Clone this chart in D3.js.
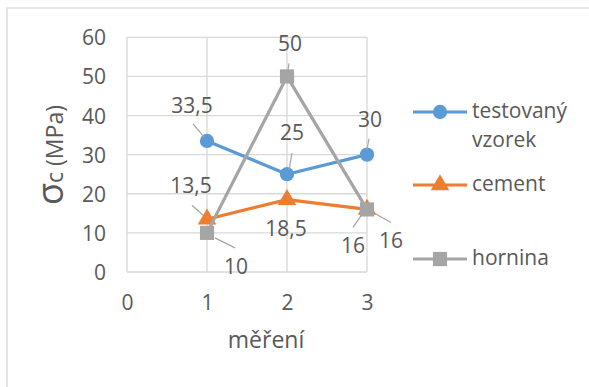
<!DOCTYPE html>
<html><head><meta charset="utf-8">
<script src="https://cdn.jsdelivr.net/npm/d3@7/dist/d3.min.js"></script>
<style>body{margin:0;background:#fff}text{font-family:"Open Sans",sans-serif;fill:#595959}</style>
</head><body><svg id="c" width="589" height="387"></svg>
<script>
const categories = [1, 2, 3];
const xTicks = [0, 1, 2, 3];
const yTicks = [0, 10, 20, 30, 40, 50, 60];
const seriesNames = ["testovaný vzorek", "cement", "hornina"];
const testovany = [33.5, 25, 30];
const cement = [13.5, 18.5, 16];
const hornina = [10, 50, 16];
const xTitle = "měření";

const colors = ["#5b9bd5", "#ed7d31", "#a5a5a5"];
const symbols = [d3.symbolCircle, d3.symbolTriangle, d3.symbolSquare];
const symSizes = [160, 150, 200];
const FS = 21;
// label layout: [labelDx, labelDy, leader x1,y1,x2,y2] relative to marker
const labelLayout = [
  [[-15,-28,-14,-17,-3,-4],[5,-34,5,-21,2,-4],[3,-28,2,-16,0,-5]],
  [[-16,-26,-15,-14,-4,-4],[-1,36,null],[-14,44,-14,18,-5,5]],
  [[29,41,8,5,28,15],[3,-25,2,-13,1,-6],[24,39,8,4,24,13]]
];
const series = [testovany, cement, hornina];

const svg = d3.select("#c");
svg.append("rect").attr("x",7).attr("y",8).attr("width",700).attr("height",500)
  .attr("fill","#fff").attr("stroke","#d9d9d9").attr("stroke-width",1.3);

const x = d3.scaleLinear().domain([0,3]).range([127,367]);
const y = d3.scaleLinear().domain([0,60]).range([272,37.3]);

const g = svg.append("g");
g.selectAll(".hg").data(yTicks).join("line")
  .attr("x1",x(0)).attr("x2",x(3)).attr("y1",d=>y(d)).attr("y2",d=>y(d))
  .attr("stroke","#d9d9d9").attr("stroke-width",1.3);
g.selectAll(".vg").data(xTicks).join("line")
  .attr("y1",y(0)).attr("y2",y(60)).attr("x1",d=>x(d)).attr("x2",d=>x(d))
  .attr("stroke","#d9d9d9").attr("stroke-width",1.3);

const yAxis = d3.axisLeft(y).tickValues(yTicks).tickSize(0).tickPadding(21).tickFormat(d3.format("d"));
const ya = svg.append("g").attr("transform","translate("+x(0)+",0)").call(yAxis);
ya.select(".domain").remove();
ya.selectAll("text").attr("font-size",FS).attr("fill","#595959").attr("font-family","Open Sans").attr("dy","0.36em");
const xAxis = d3.axisBottom(x).tickValues(xTicks).tickSize(0).tickPadding(23).tickFormat(d3.format("d"));
const xa = svg.append("g").attr("transform","translate(0,"+y(0)+")").call(xAxis);
xa.select(".domain").remove();
xa.selectAll("text").attr("font-size",FS).attr("fill","#595959").attr("font-family","Open Sans");

svg.append("text").attr("x",266).attr("y",348).attr("text-anchor","middle").attr("font-size",23).text(xTitle);
const yt = svg.append("text").attr("transform","translate(63,155) rotate(-90)").attr("text-anchor","middle").attr("font-size",23);
yt.append("tspan").attr("font-size",36).text("σ");
yt.append("tspan").text("c (MPa)");

const line = d3.line().x((d,i)=>x(categories[i])).y(d=>y(d));
series.forEach((s,si)=>{
  svg.append("path").datum(s).attr("d",line).attr("fill","none")
    .attr("stroke",colors[si]).attr("stroke-width",3.2).attr("stroke-linejoin","round");
  svg.selectAll(".m"+si).data(s).join("path")
    .attr("transform",(d,i)=>"translate("+x(categories[i])+","+y(d)+")")
    .attr("d",d3.symbol().type(symbols[si]).size(symSizes[si])).attr("fill",colors[si]);
});
const fmt = v => String(v).replace(".", ",");
series.forEach((s,si)=>{
  s.forEach((v,i)=>{
    const mx=x(categories[i]), my=y(v), L=labelLayout[si][i];
    if(L[2]!=null) svg.append("line").attr("x1",mx+L[2]).attr("y1",my+L[3]).attr("x2",mx+L[4]).attr("y2",my+L[5])
      .attr("stroke","#a6a6a6").attr("stroke-width",1.2);
    svg.append("text").attr("x",mx+L[0]).attr("y",my+L[1]).attr("text-anchor","middle").attr("font-size",FS).attr("fill","#404040").text(fmt(v));
  });
});

const legY = [112,185,259];
const legLines = [["testovaný","vzorek"],["cement"],["hornina"]];
seriesNames.forEach((n,i)=>{
  const lg = svg.append("g");
  lg.append("line").attr("x1",413).attr("x2",467).attr("y1",legY[i]).attr("y2",legY[i]).attr("stroke",colors[i]).attr("stroke-width",3.2);
  lg.append("path").attr("transform","translate(440,"+legY[i]+")").attr("d",d3.symbol().type(symbols[i]).size(symSizes[i])).attr("fill",colors[i]);
  const t = lg.append("text").attr("x",472).attr("y",legY[i]+6).attr("font-size",FS);
  legLines[i].forEach((w,k)=>t.append("tspan").attr("x",472).attr("dy",k?29:0).text(w));
});
</script></body></html>
